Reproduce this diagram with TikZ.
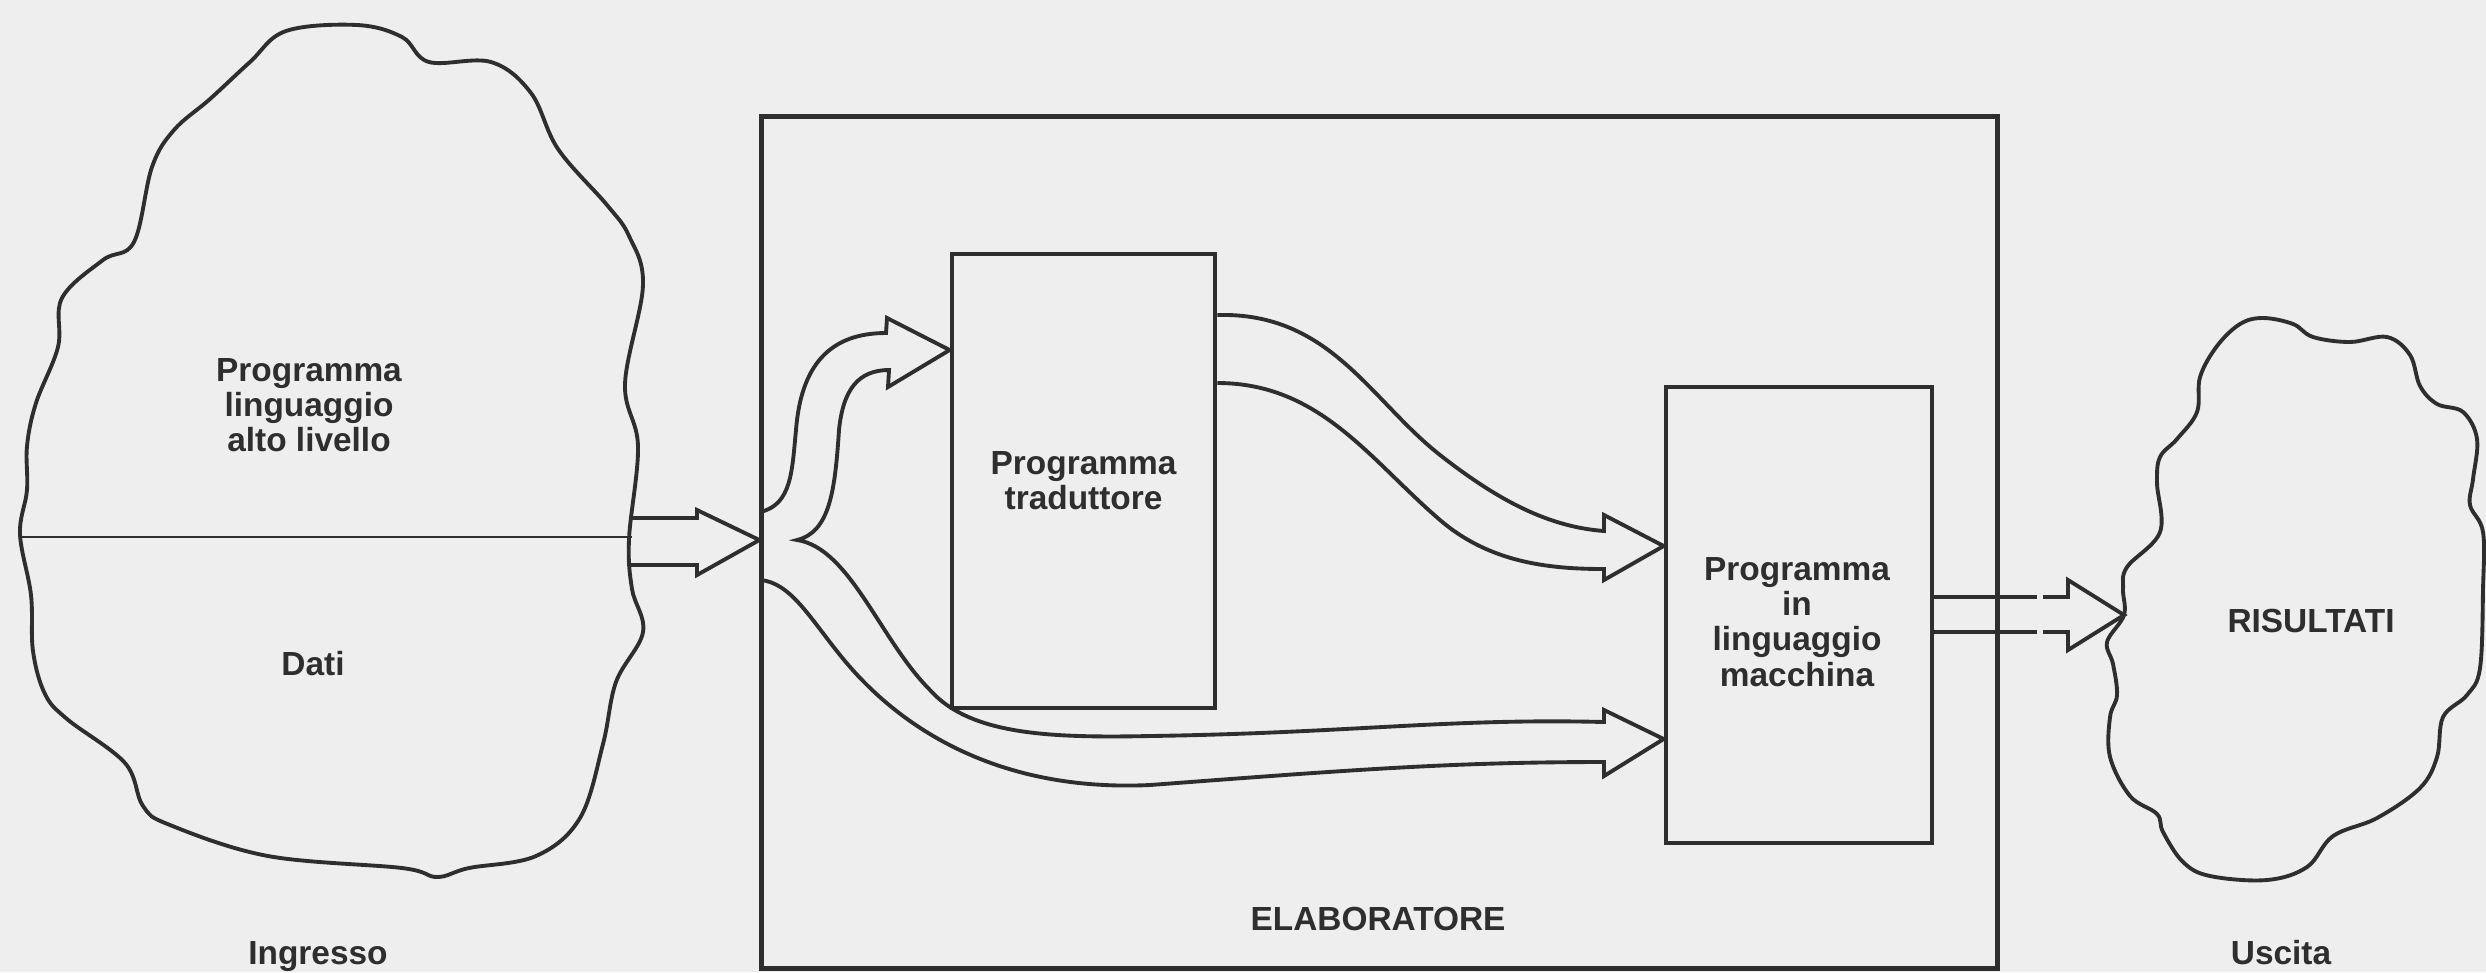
\documentclass[tikz,border=0pt]{standalone}
\usepackage{fontspec}
\setmainfont{Liberation Sans}
\usetikzlibrary{calc}
\definecolor{ink}{HTML}{2E2E2E}
\definecolor{paper}{HTML}{EEEEEE}
\tikzset{
  lbl/.style={text=ink,font=\fontsize{9.5}{10}\selectfont\bfseries,
              align=center,inner sep=0pt},
  procbox/.style={lbl,draw=ink,line width=1.3pt},
  cloudline/.style={draw=ink,line width=1.1pt},
  blockarrow/.style={draw=ink,line width=1.1pt,line join=miter}
}

\begin{document}
\begin{tikzpicture}[x=0.01cm,y=-0.01cm]
  \fill[paper] (0,0) rectangle (2486,972);
  \useasboundingbox (0,0) rectangle (2486,972);

  % clouds: input and output
  \draw[cloudline] plot[smooth cycle,tension=0.6] coordinates {
    (357,25) (402,37) (429,62) (491,62) (531,93) (558,149) (607,205)
    (629,236) (643,285) (625,384) (638,446) (629,539) (632,589) (643,632)
    (616,682) (603,744) (580,818) (536,856) (469,868) (437,877) (402,868)
    (268,856) (170,825) (143,806) (125,763) (67,719) (45,694) (33,651)
    (31,595) (20,534) (27,490) (27,446) (36,403) (58,347) (62,298)
    (103,260) (134,242) (152,167) (174,130) (210,99) (250,62) (286,31)};
  \draw[draw=ink,line width=0.8pt] (20,537) -- (632,537);
  \draw[cloudline] plot[smooth cycle,tension=0.6] coordinates {
    (2263,318) (2293,324) (2313,337) (2350,342) (2387,337) (2410,355)
    (2420,386) (2437,404) (2463,412) (2477,439) (2473,479) (2470,505)
    (2483,532) (2483,589) (2480,668) (2467,695) (2443,717) (2437,757)
    (2420,788) (2377,818) (2333,836) (2307,867) (2267,880) (2210,876)
    (2183,862) (2163,832) (2157,814) (2130,796) (2110,757) (2110,717)
    (2117,695) (2113,664) (2107,642) (2124,615) (2123,589) (2127,567)
    (2160,532) (2157,483) (2160,457) (2177,439) (2197,412) (2200,377)
    (2217,346) (2240,324)};

  \node[lbl] (srcprog) at (309,405) {Programma\\linguaggio\\alto livello};
  \node[lbl,anchor=base] (srcdata) at (313,675) {Dati};
  \node[lbl,anchor=base] (ingresso) at (318,964) {Ingresso};
  \node[lbl,anchor=base] (risult) at (2311,632) {RISULTATI};
  \node[lbl,anchor=base] (uscita) at (2281,964) {Uscita};

  % elaboratore and its programs
  \node[procbox,minimum width=12.35cm,minimum height=8.51cm] (elab)
    at (1379.5,542.5) {};
  \node[lbl,anchor=base] (elabname) at (1378,930) {ELABORATORE};
  \node[procbox,minimum width=2.63cm,minimum height=4.54cm] (trad)
    at (1083.5,481) {Programma\\traduttore};
  \node[procbox,minimum width=2.66cm,minimum height=4.56cm] (macch)
    at (1799,615) {};
  \node[lbl] (macchtxt) at ($(macch.center)+(-2,7)$)
    {Programma\\in\\linguaggio\\macchina};

  \coordinate (inTip) at (elab.west |- 0,540);
  \coordinate (trTip) at (trad.west |- 0,350);
  \coordinate (mtTip) at (macch.west |- 0,546);
  \coordinate (mbTip) at (macch.west |- 0,739);
  \coordinate (outTip) at (2124,615);

  % block arrows
  \draw[blockarrow] (630,518) -- (697,518) -- (697,510) -- (inTip)
    -- (697,575) -- (697,565) -- (630,565);
  \draw[blockarrow] (760,512) .. controls (792,505) and (792,470) .. (796,430)
    .. controls (801,365) and (830,333) .. (886,333)
    -- (887,318) -- (trTip) -- (888,387) -- (889,370)
    .. controls (858,370) and (843,390) .. (839,430)
    .. controls (835,490) and (830,532) .. (797,540)
    .. controls (850,548) and (880,640) .. (930,690)
    .. controls (970,735) and (1050,738) .. (1150,736)
    .. controls (1350,733) and (1450,718) .. (1604,722)
    -- (1604,710) -- (mbTip) -- (1604,776) -- (1604,762)
    .. controls (1450,762) and (1350,770) .. (1150,785)
    .. controls (1000,792) and (900,730) .. (840,655)
    .. controls (810,618) and (790,582) .. (760,580);
  \draw[blockarrow] (trad.east |- 0,315)
    .. controls (1330,312) and (1370,400) .. (1440,455)
    .. controls (1500,502) and (1550,527) .. (1604,531)
    -- (1604,515) -- (mtTip) -- (1604,580) -- (1604,569)
    .. controls (1550,569) and (1490,563) .. (1440,520)
    .. controls (1370,460) and (1320,383) .. (trad.east |- 0,383);
  \draw[blockarrow] (macch.east |- 0,597) -- (2037,597);
  \draw[blockarrow] (2043,597) -- (2068,597) -- (2068,580) -- (outTip)
    -- (2068,650) -- (2068,632) -- (2043,632);
  \draw[blockarrow] (2037,632) -- (macch.east |- 0,632);
\end{tikzpicture}
\end{document}
